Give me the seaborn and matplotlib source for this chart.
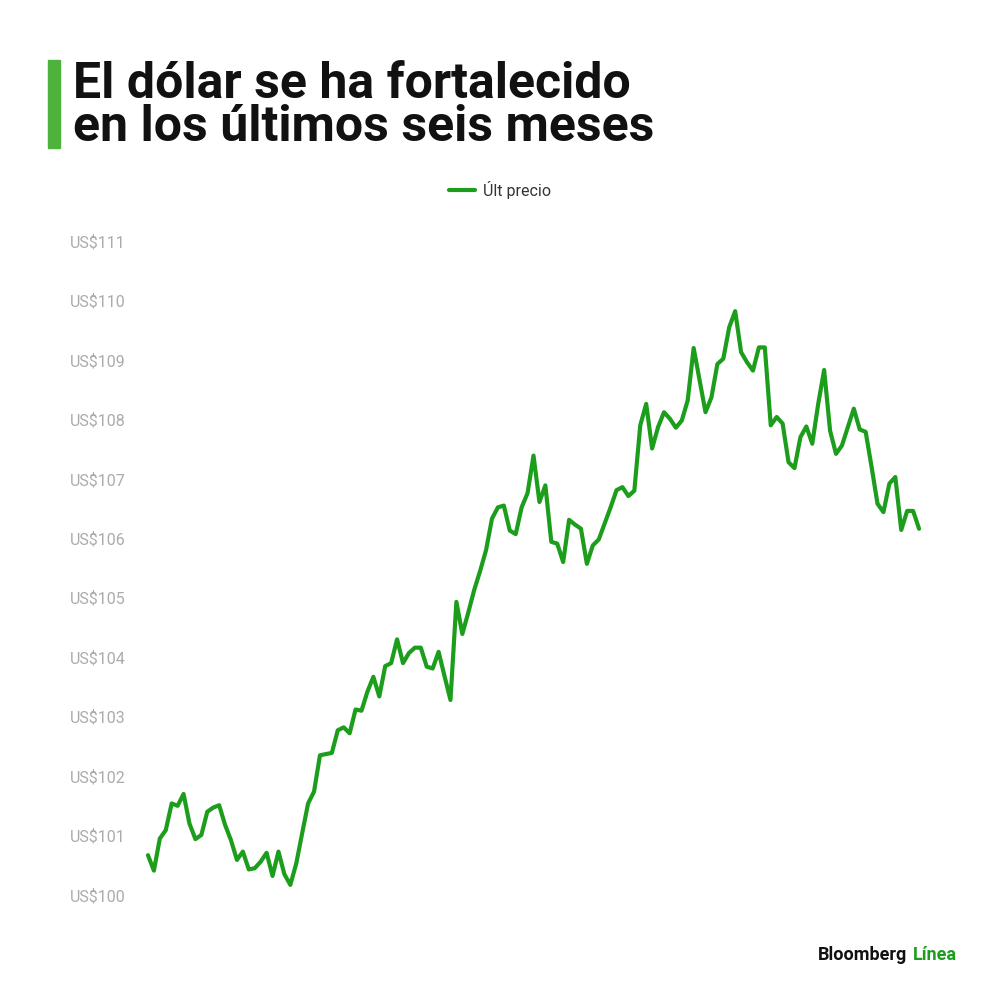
import numpy as np
import pandas as pd
import matplotlib
matplotlib.use("Agg")
import matplotlib.pyplot as plt
import seaborn as sns

# datos (indice del dolar, ultimos seis meses)
precio = [
    100.67, 100.41, 100.95, 101.09, 101.54, 101.50, 101.70, 101.20, 100.94, 101.01,
    101.40, 101.47, 101.51, 101.18, 100.92, 100.59, 100.73, 100.43, 100.45, 100.56,
    100.71, 100.32, 100.73, 100.35, 100.17, 100.53, 101.04, 101.54, 101.74, 102.35,
    102.37, 102.39, 102.77, 102.82, 102.72, 103.12, 103.10, 103.42, 103.67, 103.34,
    103.85, 103.90, 104.30, 103.90, 104.07, 104.16, 104.16, 103.84, 103.81, 104.09,
    103.68, 103.28, 104.93, 104.39, 104.75, 105.13, 105.45, 105.80, 106.33, 106.52,
    106.55, 106.13, 106.07, 106.52, 106.76, 107.39, 106.61, 106.89, 105.94, 105.91,
    105.60, 106.31, 106.23, 106.16, 105.57, 105.88, 105.98, 106.25, 106.52, 106.81,
    106.86, 106.71, 106.80, 107.90, 108.26, 107.51, 107.87, 108.12, 108.01, 107.86,
    107.98, 108.32, 109.20, 108.66, 108.12, 108.37, 108.93, 109.02, 109.55, 109.82,
    109.13, 108.96, 108.82, 109.21, 109.21, 107.90, 108.04, 107.93, 107.28, 107.18,
    107.70, 107.88, 107.59, 108.26, 108.83, 107.81, 107.42, 107.56, 107.87, 108.18,
    107.83, 107.79, 107.20, 106.58, 106.44, 106.92, 107.03, 106.14, 106.46, 106.46,
    106.16,
]
ticks = list(range(100, 112))
tick_labels = ["US$%d" % t for t in ticks]
serie = "Últ precio"

df = pd.DataFrame({"dia": np.arange(len(precio)), "precio": precio, "serie": serie})

verde = "#1c9e1c"
fuente = ["Roboto", "DejaVu Sans"]

sns.set_style("white")
plt.rcParams["font.family"] = fuente

fig = plt.figure(figsize=(10, 10), dpi=100)
ax = fig.add_axes([0.145, 0.105, 0.777, 0.654])

sns.lineplot(data=df, x="dia", y="precio", hue="serie", palette=[verde],
             linewidth=3, ax=ax, legend=False)

ax.set_xlim(-0.5, len(precio) - 0.5)
ax.set_ylim(100, 111)
ax.set_yticks(ticks)
ax.set_yticklabels(tick_labels)
ax.set_xticks([])
ax.set_xlabel("")
ax.set_ylabel("")
for s in ax.spines.values():
    s.set_visible(False)
ax.tick_params(axis="y", length=0, pad=54, labelsize=11.5, labelcolor="#ababab")
for lbl in ax.get_yticklabels():
    lbl.set_horizontalalignment("left")

# titulo con barra verde
fig.patches.append(plt.Rectangle((0.048, 0.852), 0.012, 0.088, transform=fig.transFigure,
                                 color="#4db33d", zorder=3))
fig.text(0.073, 0.902, "El dólar se ha fortalecido", fontsize=36, fontweight="bold",
         color="#111111", va="baseline", ha="left")
fig.text(0.073, 0.859, "en los últimos seis meses", fontsize=36, fontweight="bold",
         color="#111111", va="baseline", ha="left")

# leyenda
h = plt.Line2D([], [], color=verde, linewidth=3)
fig.legend([h], [serie], loc="center", bbox_to_anchor=(0.5, 0.81), frameon=False,
           handlelength=1.6, handletextpad=0.5, fontsize=11.5, labelcolor="#333333")

# firma
fig.text(0.818, 0.045, "Bloomberg", fontsize=13, fontweight="bold", color="#111111",
         ha="left", va="center")
fig.text(0.913, 0.045, "Línea", fontsize=13, fontweight="bold", color=verde,
         ha="left", va="center")

fig.savefig("out.png", dpi=100, facecolor="white")
